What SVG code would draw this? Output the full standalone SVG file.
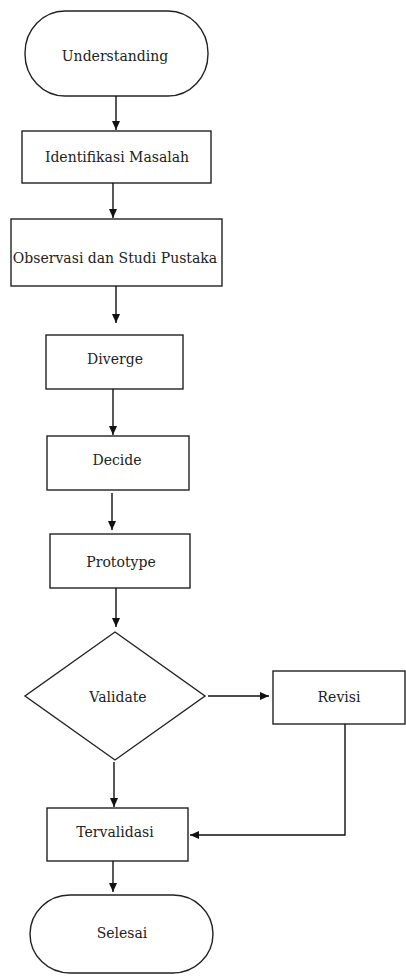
<svg xmlns="http://www.w3.org/2000/svg" width="406" height="976" viewBox="0 0 406 976">
<style>
.s{fill:#fff;stroke:#222;stroke-width:1.4}
.t{font-family:"DejaVu Serif",serif;font-size:14px;fill:#222;text-anchor:middle}
.c{fill:none;stroke:#111;stroke-width:1.4}
</style>
<defs>
<marker id="ah" markerWidth="10" markerHeight="10" refX="9" refY="4" orient="auto" markerUnits="userSpaceOnUse">
<path d="M0,0 L9,4 L0,8 Z" fill="#111"/>
</marker>
</defs>
<rect width="406" height="976" fill="#fff"/>
<g id="n-understanding"><rect class="s" x="25" y="11" width="183" height="85" rx="40" ry="42"/><text class="t" x="115" y="61">Understanding</text></g>
<g id="n-identifikasi"><rect class="s" x="22" y="131" width="189" height="52"/><text class="t" x="117" y="162">Identifikasi Masalah</text></g>
<g id="n-observasi"><rect class="s" x="11" y="219" width="211" height="67"/><text class="t" x="115" y="263">Observasi dan Studi Pustaka</text></g>
<g id="n-diverge"><rect class="s" x="46" y="335" width="137" height="54"/><text class="t" x="115" y="364">Diverge</text></g>
<g id="n-decide"><rect class="s" x="47" y="436" width="142" height="54"/><text class="t" x="117" y="465">Decide</text></g>
<g id="n-prototype"><rect class="s" x="50" y="534" width="140" height="54"/><text class="t" x="121" y="567">Prototype</text></g>
<g id="n-validate"><path class="s" d="M115,632 L205,696 L115,760 L25,696 Z"/><text class="t" x="118" y="702">Validate</text></g>
<g id="n-revisi"><rect class="s" x="273" y="671" width="132" height="53"/><text class="t" x="339" y="702">Revisi</text></g>
<g id="n-tervalidasi"><rect class="s" x="47" y="808" width="141" height="53"/><text class="t" x="115" y="837">Tervalidasi</text></g>
<g id="n-selesai"><rect class="s" x="30" y="895" width="183" height="78" rx="40" ry="39"/><text class="t" x="122" y="938">Selesai</text></g>
<g id="connectors">
<path class="c" d="M116,96 L116,130" marker-end="url(#ah)"/>
<path class="c" d="M113,183 L113,218" marker-end="url(#ah)"/>
<path class="c" d="M116,286 L116,323" marker-end="url(#ah)"/>
<path class="c" d="M113,389 L113,435" marker-end="url(#ah)"/>
<path class="c" d="M112,493 L112,530" marker-end="url(#ah)"/>
<path class="c" d="M116,588 L116,627" marker-end="url(#ah)"/>
<path class="c" d="M208,696 L269,696" marker-end="url(#ah)"/>
<path class="c" d="M114,762 L114,807" marker-end="url(#ah)"/>
<path class="c" d="M345,724 L345,835 L190,835" marker-end="url(#ah)"/>
<path class="c" d="M113,861 L113,892" marker-end="url(#ah)"/>
</g>
</svg>
